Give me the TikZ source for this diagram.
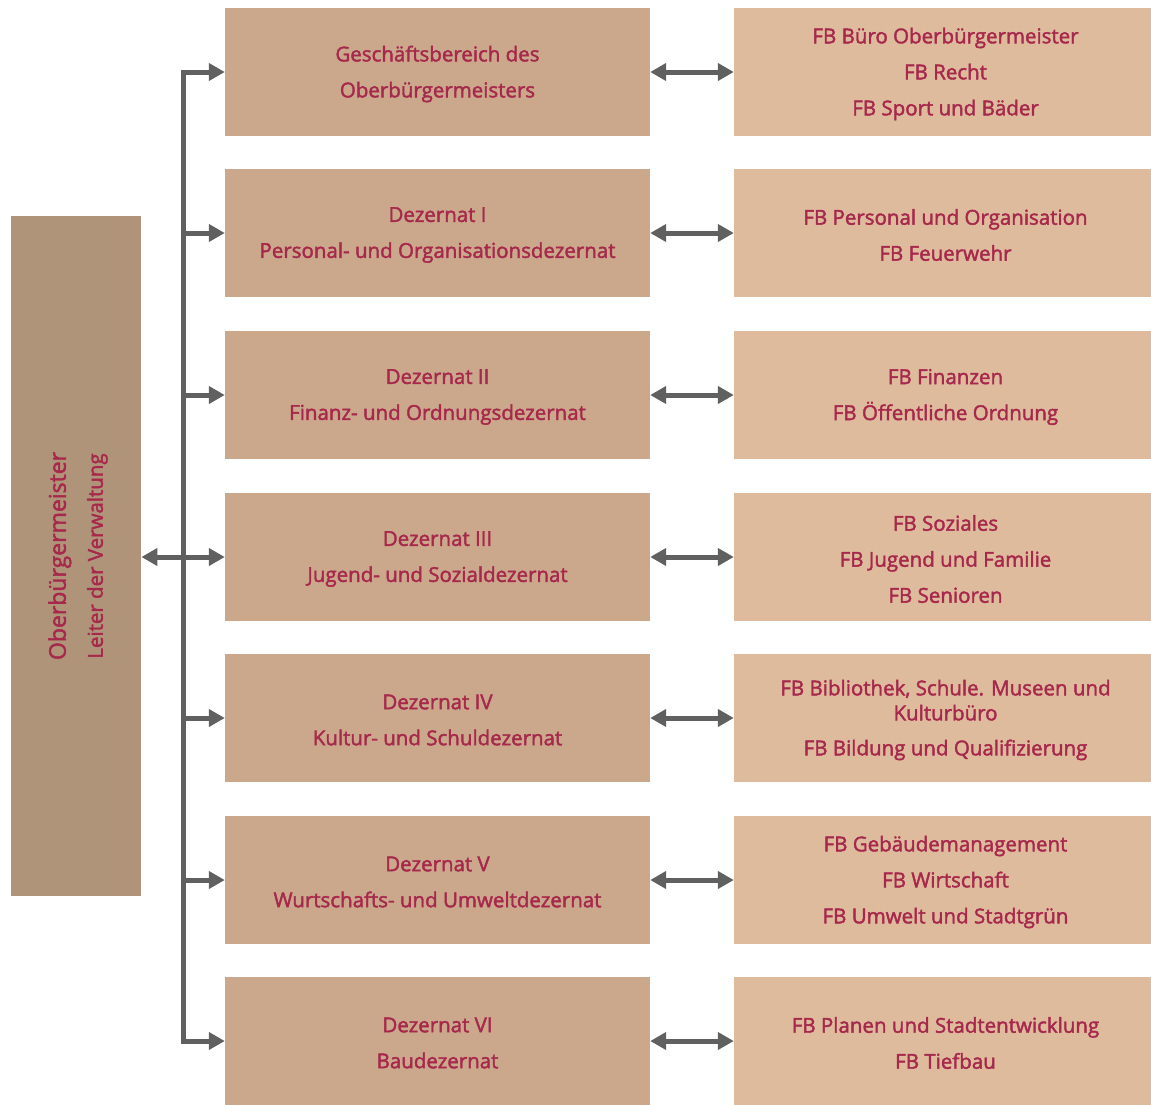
\documentclass[tikz,border=0pt]{standalone}
\usepackage{fontspec}
\setmainfont{Open Sans}[FakeBold=2]
\usetikzlibrary{arrows.meta}
\definecolor{lbox}{HTML}{B09479}
\definecolor{mbox}{HTML}{CBA88C}
\definecolor{rbox}{HTML}{DFBB9D}
\definecolor{txt}{HTML}{A6294C}
\definecolor{arr}{HTML}{606060}
\tikzset{
  mid/.style={fill=mbox, draw=none, minimum width=425pt, minimum height=128pt, inner sep=0pt},
  rgt/.style={fill=rbox, draw=none, minimum width=417pt, minimum height=128pt, inner sep=0pt},
  lbl/.style={text=txt, align=center, font=\fontsize{20.5}{36}\selectfont, yshift=-2pt},
  conn/.style={draw=arr, line width=5pt, -{Triangle[length=16pt,width=17pt]}},
  dconn/.style={draw=arr, line width=5pt, {Triangle[length=16pt,width=17pt]}-{Triangle[length=16pt,width=17pt]}},
}
\begin{document}
\begin{tikzpicture}[x=1pt,y=-1pt]
\useasboundingbox (0,0) rectangle (1151,1104);
% left box
\node (ob) [fill=lbox, minimum width=130pt, minimum height=680pt, inner sep=0pt, anchor=north west] at (11,216) {};
\node (obt) [rotate=90, text=txt, align=center, font=\fontsize{23}{37}\selectfont] at (78,556) {Oberbürgermeister\\{\fontsize{20.5}{37}\selectfont Leiter der Verwaltung}};
% boxes
\foreach \i/\y in {1/72,2/233,3/395,4/557,5/718,6/880,7/1041}{
  \node (m\i) [mid] at (437.5,\y) {};
  \node (r\i) [rgt] at (942.5,\y) {};
}
\node (tm1) [lbl] at (m1) {Geschäftsbereich des\\Oberbürgermeisters};
\node (tm2) [lbl] at (m2) {Dezernat I\\Personal- und Organisationsdezernat};
\node (tm3) [lbl] at (m3) {Dezernat II\\Finanz- und Ordnungsdezernat};
\node (tm4) [lbl] at (m4) {Dezernat III\\Jugend- und Sozialdezernat};
\node (tm5) [lbl] at (m5) {Dezernat IV\\Kultur- und Schuldezernat};
\node (tm6) [lbl] at (m6) {Dezernat V\\Wurtschafts- und Umweltdezernat};
\node (tm7) [lbl] at (m7) {Dezernat VI\\Baudezernat};
\tikzset{lbl/.append style={xshift=3pt}}
\node (tr1) [lbl] at (r1) {FB Büro Oberbürgermeister\\FB Recht\\FB Sport und Bäder};
\node (tr2) [lbl] at (r2) {FB Personal und Organisation\\FB Feuerwehr};
\node (tr3) [lbl] at (r3) {FB Finanzen\\FB Öffentliche Ordnung};
\node (tr4) [lbl] at (r4) {FB Soziales\\FB Jugend und Familie\\FB Senioren};
\node (tr5) [lbl, font=\fontsize{20.5}{25}\selectfont] at (r5) {FB Bibliothek, Schule. Museen und\\Kulturbüro\\[10pt]FB Bildung und Qualifizierung};
\node (tr6) [lbl] at (r6) {FB Gebäudemanagement\\FB Wirtschaft\\FB Umwelt und Stadtgrün};
\node (tr7) [lbl] at (r7) {FB Planen und Stadtentwicklung\\FB Tiefbau};
% trunk
\coordinate (top) at (183,72);
\coordinate (bot) at (183,1041);
\draw [draw=arr, line width=5pt] (top) -- (bot);
\draw [conn] ([xshift=-2.5pt]top) -- (m1.west);
\draw [conn] ([xshift=-2.5pt]bot) -- (m7.west);
\foreach \i in {2,3,5,6}{
  \draw [conn] (top |- m\i.west) -- (m\i.west);
}
\draw [dconn] (ob.east |- m4.west) -- (m4.west);
\foreach \i in {1,...,7}{
  \draw [dconn] (m\i.east) -- (r\i.west);
}
\end{tikzpicture}
\end{document}
